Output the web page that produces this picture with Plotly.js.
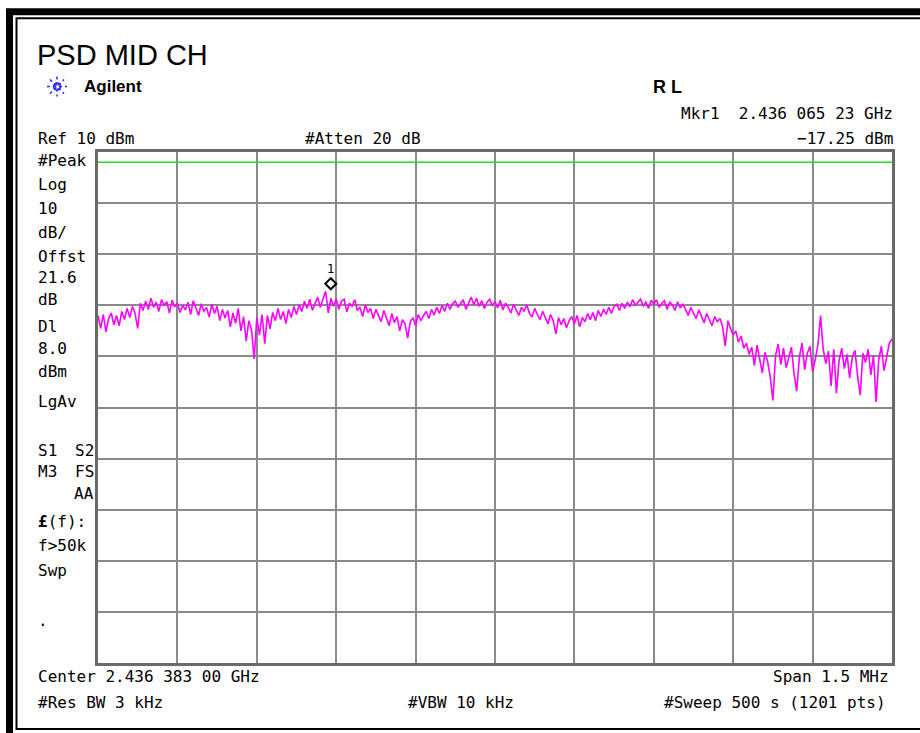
<!DOCTYPE html>
<html>
<head>
<meta charset="utf-8">
<script src="https://cdn.plot.ly/plotly-3.0.1.min.js"></script>
<style>
html,body{margin:0;padding:0;background:#fff;}
#chart{width:920px;height:733px;}
</style>
</head>
<body>
<div id="chart"></div>
<script>
// ---- instrument settings (from the screen) ----
const centerGHz = 2.436383;
const spanGHz = 0.0015;
const refLevel = 10;      // dBm
const dbPerDiv = 10;
const displayLine = 8.0;  // dBm
const markerFreq = 2.43606523; // GHz
const markerLevel = -17.25;    // dBm

// ---- trace values (dBm), 301 readings across the span ----
const traceDbm = [
 -22.0,-24.5,-21.8,-25.2,-22.6,-21.5,-23.8,-22.0,-24.0,-21.2,-22.8,-20.6,-22.4,
 -20.2,-21.6,-24.5,-19.6,-21.0,-19.2,-20.8,-18.6,-20.4,-19.4,-21.2,-18.9,-20.0,-19.3,-21.5,-19.0,-20.3,
 -19.6,-21.4,-20.0,-20.9,-19.4,-21.8,-19.1,-20.6,-22.0,-19.7,-21.2,-20.4,-22.3,-19.8,-21.6,-20.2,-23.0,
 -20.8,-22.5,-21.0,-24.2,-21.5,-23.5,-20.6,-25.0,-22.2,-27.0,-23.0,-24.8,-30.5,
 -22.4,-25.8,-21.8,-27.5,-22.0,-24.6,-21.4,-23.0,-20.6,-22.8,-21.2,-23.6,-20.8,-22.4,-20.2,-21.8,-19.9,-21.2,
 -19.2,-20.6,-18.8,-21.0,-19.5,-18.4,-20.4,-18.9,-17.25,-21.5,-18.6,-20.2,
 -18.7,-20.8,-19.2,-18.8,-21.3,-19.6,-20.2,-18.9,-21.0,-20.4,-22.2,-19.9,-21.4,-20.6,-22.6,-20.8,-21.9,-23.2,-21.0,-22.4,-24.0,-21.6,-23.4,-22.2,-25.0,-22.8,-23.6,-26.4,
 -23.2,-22.4,-24.0,-21.8,-23.0,-22.0,-21.2,-22.6,-20.8,-21.9,-20.4,-21.6,-20.0,-21.2,-19.6,-20.8,-19.7,
 -19.2,-20.4,-19.6,-18.9,-20.8,-19.4,-18.4,-19.9,-18.6,-20.2,-19.1,-20.6,-19.4,-18.8,-20.1,-19.3,-20.5,-19.0,-20.9,-19.6,
 -20.4,-21.5,-19.8,-20.9,-22.0,-20.4,-21.2,-19.9,-21.6,-22.3,-20.6,-21.8,-22.8,-21.2,-22.5,-23.6,-21.8,-23.0,-25.6,-22.4,-23.8,-22.6,-24.4,-23.0,-22.2,
 -23.6,-22.0,-24.2,-22.4,-23.2,-21.6,-22.8,-21.4,-23.0,-21.0,-22.2,-20.8,-21.8,-20.4,-21.6,-20.2,-19.8,-21.0,-19.6,-20.6,-19.4,-20.3,-18.9,-20.0,-19.5,
 -18.8,-20.2,-19.3,-20.6,-19.0,-19.8,-18.9,-20.4,-19.6,-19.1,-20.8,-19.4,-19.9,-21.0,-19.3,-20.5,-19.8,
 -20.8,-22.0,-20.4,-21.6,-22.6,-20.9,-22.2,-23.4,-21.6,-22.8,-24.0,-22.2,-23.2,-22.6,-24.2,-28.0,-23.0,-24.6,
 -25.8,-25.0,-27.2,-26.0,-28.4,
 -27.4,-29.6,-28.2,-31.8,-27.8,-30.4,-33.2,-29.2,-31.0,-34.0,-38.6,-29.8,-27.6,-31.6,-28.4,-32.2,-30.0,-28.2,-33.4,-36.8,
 -30.2,-27.4,-32.6,-29.4,-28.0,-33.0,-30.6,-27.8,-22.0,-28.6,-31.4,-29.0,-35.8,-28.6,-37.2,-30.8,-28.4,-32.4,-29.6,-34.2,
 -30.2,-28.8,-33.8,-37.6,-29.4,-31.2,-28.6,-33.6,-29.8,-38.9,-30.6,-28.0,-32.8,-30.2,-27.4,-26.6
];

// ---- screen text ----
const titleText = "PSD MID CH";
const brandText = "Agilent";
const statusText = "R L";
const mkrLine1 = "Mkr1  2.436 065 23 GHz";
const mkrLine2 = "\u221217.25 dBm";
const refText = "Ref 10 dBm";
const attenText = "#Atten 20 dB";
const sideLabels = ["#Peak","Log","10","dB/","Offst","21.6","dB","Dl","8.0","dBm","LgAv","S1","M3","<b>\u00a3</b>(f):","f>50k","Swp","."];
const sideLabelY = [160,184,208,232,256,277,299,326,348,371,401,450,471,521,545,570,620];
const sideRightLabels = ["S2","FS","AA"];
const sideRightY = [450,471,493];
const centerText = "Center 2.436 383 00 GHz";
const spanText = "Span 1.5 MHz";
const rbwText = "#Res BW 3 kHz";
const vbwText = "#VBW 10 kHz";
const sweepText = "#Sweep 500 s (1201 pts)";

// ---- derived ----
const startGHz = centerGHz - spanGHz/2;
const stopGHz = centerGHz + spanGHz/2;
const freqs = traceDbm.map((_, i) => startGHz + i*spanGHz/(traceDbm.length-1));

// geometry helpers (pixel -> paper)
const L = 98, R = 892, T = 151.5, B = 663;
const W = 920, H = 733;
const px = x => (x - L)/(R - L);
const py = y => (B - y)/(B - T);

const mono = "DejaVu Sans Mono, monospace";
const txt = (text, x, y, xanchor, size, opts={}) => Object.assign({
  text, x: px(x), y: py(y), xref:'paper', yref:'paper', showarrow:false,
  xanchor, yanchor:'middle', font:{family:mono, size:size, color:'#000'}, borderpad:0
}, opts);

const annotations = [
  txt(titleText, 36, 54, 'left', 29, {font:{family:'Liberation Sans, Arial, sans-serif', size:29, color:'#000'}}),
  txt("<b>"+brandText+"</b>", 83, 86, 'left', 17, {font:{family:'Liberation Sans, Arial, sans-serif', size:17, color:'#000'}}),
  txt("<b>"+statusText+"</b>", 652, 86, 'left', 18, {font:{family:'Liberation Sans, Arial, sans-serif', size:18, color:'#000'}}),
  txt(mkrLine1, 894, 113, 'right', 16),
  txt(mkrLine2, 894, 138, 'right', 16),
  txt(refText, 37, 138, 'left', 16),
  txt(attenText, 304, 138, 'left', 16),
  txt(centerText, 37, 677, 'left', 16),
  txt(spanText, 890, 677, 'right', 16),
  txt(rbwText, 37, 703, 'left', 16),
  txt(vbwText, 407, 703, 'left', 16),
  txt(sweepText, 887, 703, 'right', 16),
  {text:"1", x:markerFreq, y:markerLevel, xref:'x', yref:'y', showarrow:false, yshift:22, xshift:4,
   font:{family:mono, size:12, color:'#000'}}
];
sideLabels.forEach((s, i) => annotations.push(txt(s, 37, sideLabelY[i], 'left', 16)));
sideRightLabels.forEach((s, i) => annotations.push(txt(s, 95, sideRightY[i], 'right', 16)));

// frame and logo shapes
const shapes = [
  {type:'rect', xref:'paper', yref:'paper', x0:px(9.5), x1:px(945), y0:py(11), y1:py(760),
   line:{color:'#000', width:7}, fillcolor:'rgba(0,0,0,0)', layer:'above'},
  {type:'rect', xref:'paper', yref:'paper', x0:px(16.5), x1:px(935), y0:py(17.5), y1:py(729),
   line:{color:'#000', width:2}, fillcolor:'rgba(0,0,0,0)', layer:'above'},
  // display line
  {type:'line', xref:'paper', yref:'y', x0:0, x1:1, y0:displayLine, y1:displayLine,
   line:{color:'#22dd22', width:1.5}},
  // marker diamond (pixel-sized, anchored on the marker)
  {type:'path', xref:'x', yref:'y', xsizemode:'pixel', ysizemode:'pixel',
   xanchor:markerFreq, yanchor:markerLevel, path:'M 4 2 L 9.5 7.5 L 4 13 L -1.5 7.5 Z',
   line:{color:'#000', width:2}, fillcolor:'rgba(255,255,255,0)'}
];
// Agilent spark logo
const cx = 57, cy = 86, rr = 10;
[[1,0],[0,1],[0.707,0.707],[0.707,-0.707]].forEach(([dx,dy]) => {
  shapes.push({type:'line', xref:'paper', yref:'paper',
    x0:px(cx-dx*rr), x1:px(cx+dx*rr), y0:py(cy-dy*rr), y1:py(cy+dy*rr),
    line:{color:'#2a2aff', width:1.5, dash:'dot'}});
});
shapes.push({type:'circle', xref:'paper', yref:'paper', x0:px(cx-3.5), x1:px(cx+3.5), y0:py(cy-3.5), y1:py(cy+3.5),
  line:{color:'#2a2aff', width:1.5}, fillcolor:'rgba(0,0,0,0)'});

const data = [{
  type:'scatter', mode:'lines', x:freqs, y:traceDbm,
  line:{color:'#ff00ff', width:1.6}, hoverinfo:'skip'
}];

const layout = {
  width:W, height:H,
  margin:{l:L, r:W-R, t:T, b:H-B, pad:0},
  paper_bgcolor:'#fff', plot_bgcolor:'#fff',
  showlegend:false, hovermode:false,
  xaxis:{range:[startGHz, stopGHz], tick0:startGHz, dtick:spanGHz/10, showticklabels:false,
    ticks:'', showgrid:true, gridcolor:'#8a8a8a', gridwidth:2, zeroline:false,
    showline:true, linecolor:'#6a6a6a', linewidth:3, mirror:true, fixedrange:true},
  yaxis:{range:[refLevel-10*dbPerDiv, refLevel], tick0:refLevel, dtick:dbPerDiv, showticklabels:false,
    ticks:'', showgrid:true, gridcolor:'#8a8a8a', gridwidth:2, zeroline:false,
    showline:true, linecolor:'#6a6a6a', linewidth:3, mirror:true, fixedrange:true},
  annotations, shapes
};

Plotly.newPlot('chart', data, layout, {staticPlot:true, displayModeBar:false});
</script>
</body>
</html>
